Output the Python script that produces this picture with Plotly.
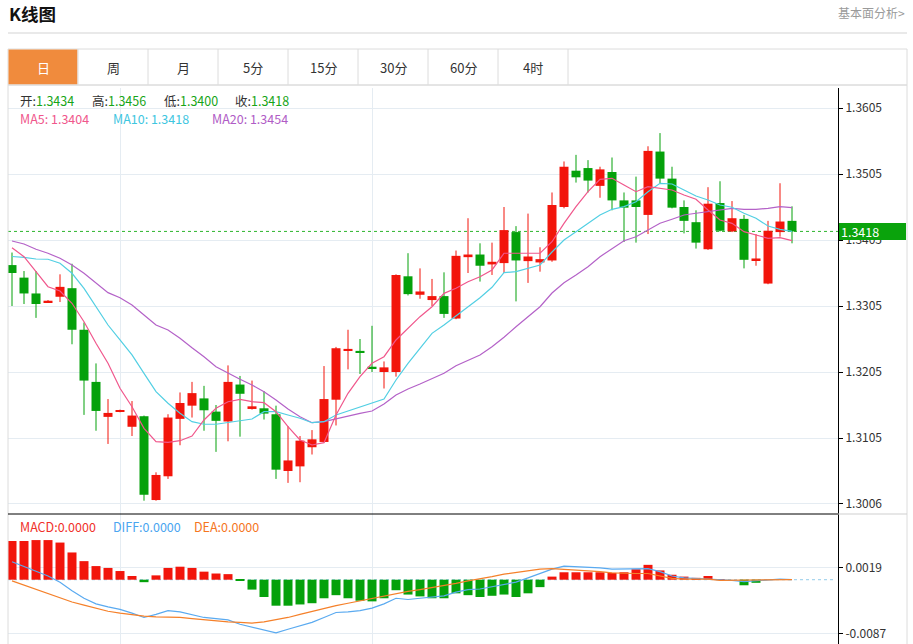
import plotly.graph_objects as go

W, H = 913, 644

# ---------------- data ----------------
days = list(range(66))

open_ = [1.3367, 1.3348, 1.3324, 1.3311, 1.3319, 1.3332, 1.3269, 1.3190, 1.3137, 1.3145,
         1.3122, 1.3138, 1.3011, 1.3047, 1.3134, 1.3154, 1.3165, 1.3145, 1.3130, 1.3186,
         1.3149, 1.3150, 1.3141, 1.3055, 1.3062, 1.3091, 1.3099, 1.3163, 1.3237, 1.3237,
         1.3213, 1.3205, 1.3205, 1.3350, 1.3322, 1.3314, 1.3320, 1.3286, 1.3379, 1.3383,
         1.3368, 1.3370, 1.3417, 1.3373, 1.3371, 1.3374, 1.3455, 1.3510, 1.3514, 1.3487,
         1.3508, 1.3465, 1.3465, 1.3443, 1.3539, 1.3498, 1.3455, 1.3432, 1.3391, 1.3461,
         1.3418, 1.3437, 1.3374, 1.3339, 1.3417, 1.3434]
high = [1.3386, 1.3358, 1.3358, 1.3314, 1.3353, 1.3369, 1.3280, 1.3218, 1.3164, 1.3148,
        1.3161, 1.3139, 1.3053, 1.3141, 1.3174, 1.3190, 1.3184, 1.3155, 1.3215, 1.3199,
        1.3192, 1.3176, 1.3154, 1.3123, 1.3108, 1.3117, 1.3214, 1.3243, 1.3269, 1.3255,
        1.3275, 1.3221, 1.3353, 1.3385, 1.3362, 1.3346, 1.3356, 1.3389, 1.3438, 1.3400,
        1.3401, 1.3455, 1.3426, 1.3445, 1.3394, 1.3477, 1.3524, 1.3534, 1.3526, 1.3516,
        1.3530, 1.3477, 1.3501, 1.3547, 1.3567, 1.3516, 1.3465, 1.3450, 1.3485, 1.3494,
        1.3464, 1.3443, 1.3414, 1.3434, 1.3491, 1.3456]
low = [1.3305, 1.3308, 1.3287, 1.3310, 1.3311, 1.3247, 1.3140, 1.3116, 1.3096, 1.3144,
       1.3108, 1.3010, 1.3010, 1.3043, 1.3094, 1.3136, 1.3116, 1.3084, 1.3100, 1.3107,
       1.3148, 1.3133, 1.3043, 1.3037, 1.3038, 1.3080, 1.3098, 1.3124, 1.3209, 1.3202,
       1.3205, 1.3180, 1.3198, 1.3321, 1.3316, 1.3305, 1.3287, 1.3285, 1.3355, 1.3342,
       1.3352, 1.3355, 1.3312, 1.3340, 1.3357, 1.3372, 1.3453, 1.3492, 1.3477, 1.3469,
       1.3450, 1.3402, 1.3401, 1.3414, 1.3491, 1.3453, 1.3415, 1.3392, 1.3390, 1.3418,
       1.3417, 1.3362, 1.3366, 1.3338, 1.3410, 1.3400]
close = [1.3355, 1.3324, 1.3308, 1.3313, 1.3334, 1.3269, 1.3192, 1.3146, 1.3143, 1.3147,
         1.3139, 1.3019, 1.3049, 1.3136, 1.3158, 1.3173, 1.3147, 1.3131, 1.3190, 1.3172,
         1.3153, 1.3142, 1.3057, 1.3071, 1.3101, 1.3103, 1.3164, 1.3241, 1.3240, 1.3234,
         1.3211, 1.3212, 1.3352, 1.3323, 1.3327, 1.3320, 1.3293, 1.3381, 1.3383, 1.3366,
         1.3372, 1.3420, 1.3374, 1.3380, 1.3376, 1.3458, 1.3516, 1.3500, 1.3495, 1.3512,
         1.3465, 1.3454, 1.3455, 1.3540, 1.3498, 1.3454, 1.3434, 1.3401, 1.3460, 1.3419,
         1.3438, 1.3375, 1.3377, 1.3419, 1.3433, 1.3418]

ma5 = [1.33933, 1.33797, 1.33570, 1.33342, 1.33277, 1.33091, 1.32812, 1.32485, 1.32182, 1.31803,
       1.31524, 1.31197, 1.30994, 1.30985, 1.31009, 1.31080, 1.31323, 1.31500, 1.31600, 1.31636,
       1.31600, 1.31585, 1.31449, 1.31221, 1.31020, 1.30944, 1.30979, 1.31399, 1.31727, 1.31979,
       1.32182, 1.32282, 1.32535, 1.32712, 1.32888, 1.33039, 1.33242, 1.33318, 1.33418, 1.33494,
       1.33596, 1.33849, 1.33849, 1.33838, 1.33849, 1.34024, 1.34303, 1.34555, 1.34782, 1.34970,
       1.34985, 1.34883, 1.34782, 1.34858, 1.34833, 1.34808, 1.34732, 1.34667, 1.34505, 1.34353,
       1.34303, 1.34176, 1.34126, 1.34076, 1.34085, 1.34040]
ma10 = [1.33800, 1.33788, 1.33762, 1.33758, 1.33697, 1.33546, 1.33318, 1.33039, 1.32762, 1.32535,
        1.32308, 1.32030, 1.31752, 1.31576, 1.31424, 1.31297, 1.31258, 1.31258, 1.31288, 1.31312,
        1.31338, 1.31449, 1.31449, 1.31399, 1.31349, 1.31282, 1.31297, 1.31399, 1.31459, 1.31524,
        1.31576, 1.31641, 1.31929, 1.32182, 1.32409, 1.32636, 1.32762, 1.32899, 1.33039, 1.33176,
        1.33333, 1.33555, 1.33570, 1.33621, 1.33671, 1.33868, 1.34050, 1.34176, 1.34303, 1.34429,
        1.34515, 1.34555, 1.34630, 1.34782, 1.34909, 1.34899, 1.34808, 1.34717, 1.34656, 1.34580,
        1.34546, 1.34455, 1.34379, 1.34262, 1.34212, 1.34180]
ma20 = [1.34035, 1.33989, 1.33909, 1.33849, 1.33773, 1.33671, 1.33546, 1.33394, 1.33252, 1.33176,
        1.33065, 1.32914, 1.32762, 1.32686, 1.32561, 1.32418, 1.32282, 1.32130, 1.32030, 1.31939,
        1.31853, 1.31752, 1.31626, 1.31489, 1.31373, 1.31282, 1.31297, 1.31343, 1.31383, 1.31424,
        1.31459, 1.31565, 1.31702, 1.31793, 1.31868, 1.31944, 1.32030, 1.32146, 1.32232, 1.32308,
        1.32433, 1.32576, 1.32736, 1.32888, 1.33039, 1.33247, 1.33403, 1.33519, 1.33646, 1.33797,
        1.33924, 1.34039, 1.34100, 1.34202, 1.34303, 1.34364, 1.34429, 1.34455, 1.34479, 1.34505,
        1.34530, 1.34515, 1.34515, 1.34530, 1.34555, 1.34540]

macd = [0.00625, 0.00625, 0.0064, 0.0064, 0.0060, 0.0044, 0.0030, 0.0022, 0.0019, 0.0014,
        0.0006, -0.0004, 0.0007, 0.0019, 0.0021, 0.0019, 0.0013, 0.0010, 0.0009, -0.0002,
        -0.0016, -0.0028, -0.0042, -0.0042, -0.0040, -0.0038, -0.0030, -0.0025, -0.0030, -0.0034,
        -0.0035, -0.0030, -0.0017, -0.0024, -0.0027, -0.0030, -0.0030, -0.0022, -0.0025, -0.0028,
        -0.0026, -0.0024, -0.0028, -0.0022, -0.0012, 0.0005, 0.0012, 0.0012, 0.0012, 0.0012,
        0.0011, 0.0012, 0.0017, 0.0024, 0.0015, 0.0008, 0.0005, 0.0003, 0.0006, 0.0001,
        0.0000, -0.0009, -0.0005, 0.0000, 0.0001, 0.0000]
diff = [0.0029, 0.0021, 0.0013, 0.0006, -0.0004, -0.0018, -0.0030, -0.0039, -0.0044, -0.0048,
        -0.0054, -0.0061, -0.0056, -0.0050, -0.0052, -0.0057, -0.0061, -0.0063, -0.0065, -0.0072,
        -0.0077, -0.0081, -0.0086, -0.0080, -0.0074, -0.0069, -0.0061, -0.0053, -0.0052, -0.0050,
        -0.0046, -0.0039, -0.0030, -0.0032, -0.0030, -0.0028, -0.0026, -0.0020, -0.0016, -0.0015,
        -0.0011, -0.0007, -0.0004, 0.0003, 0.0010, 0.0017, 0.0022, 0.0021, 0.0021, 0.0019,
        0.0017, 0.0017, 0.0017, 0.0018, 0.0013, 0.0006, 0.0003, 0.0002, 0.0002, 0.0000,
        -0.0001, -0.0003, -0.0002, -0.0001, 0.0001, 0.0000]
dea = [-0.0002, -0.0009, -0.0015, -0.0022, -0.0029, -0.0036, -0.0041, -0.0046, -0.0051, -0.0054,
       -0.0057, -0.0059, -0.0060, -0.0060, -0.0061, -0.0063, -0.0065, -0.0067, -0.0068, -0.0069,
       -0.0070, -0.0068, -0.0065, -0.0061, -0.0056, -0.0051, -0.0046, -0.0042, -0.0038, -0.0034,
       -0.0030, -0.0026, -0.0022, -0.0019, -0.0016, -0.0013, -0.0010, -0.0006, -0.0002, 0.0001,
       0.0005, 0.0009, 0.0012, 0.0015, 0.0017, 0.0018, 0.0017, 0.0016, 0.0015, 0.0013,
       0.0011, 0.0010, 0.0010, 0.0010, 0.0006, 0.0002, 0.0001, 0.0001, 0.0001, -0.0001,
       -0.0001, -0.0001, -0.0001, 0.0000, 0.0000, 0.0000]

price_ticks = [1.3605, 1.3505, 1.3405, 1.3305, 1.3205, 1.3105, 1.3006]
macd_ticks = [0.0019, -0.0087]
month_marks = [9, 30]
tabs = ["日", "周", "月", "5分", "15分", "30分", "60分", "4时"]

# ---------------- styles ----------------
RED = "#f2150b"
GREEN = "#05a10b"
C_MA5 = "#f0578c"
C_MA10 = "#52cfe3"
C_MA20 = "#b462c8"
C_DIFF = "#5aaaf0"
C_DEA = "#f5802a"
GRID = "#e5ecf2"
FONT = "Noto Sans CJK SC, Noto Sans, sans-serif"


def px(x):
    return x / W


def py(y):
    return 1 - y / H


MAIN_TOP, SPLIT, BOTTOM = 88, 514, 644
LEFT, RIGHT = 8, 838

fig = go.Figure()

# candle bodies
up = [c >= o for o, c in zip(open_, close)]
cols = [RED if u else GREEN for u in up]
fig.add_trace(go.Bar(
    x=days, base=[min(o, c) for o, c in zip(open_, close)],
    y=[abs(c - o) for o, c in zip(open_, close)],
    width=0.75, marker=dict(color=cols, line=dict(width=0)),
    xaxis="x", yaxis="y", hoverinfo="skip"))

# wicks
for flag, col in ((True, RED), (False, GREEN)):
    wx, wy = [], []
    for d, h, l, u in zip(days, high, low, up):
        if u == flag:
            wx += [d, d, None]
            wy += [l, h, None]
    fig.add_trace(go.Scatter(x=wx, y=wy, mode="lines", line=dict(color=col, width=1),
                             xaxis="x", yaxis="y", hoverinfo="skip"))

# moving averages
for series, col in ((ma20, C_MA20), (ma10, C_MA10), (ma5, C_MA5)):
    fig.add_trace(go.Scatter(x=days, y=series, mode="lines",
                             line=dict(color=col, width=1.2),
                             xaxis="x", yaxis="y", hoverinfo="skip"))

# MACD histogram
fig.add_trace(go.Bar(
    x=days, y=macd, width=0.75,
    marker=dict(color=[RED if v >= 0 else GREEN for v in macd], line=dict(width=0)),
    xaxis="x2", yaxis="y2", hoverinfo="skip"))
fig.add_trace(go.Scatter(x=days, y=diff, mode="lines", line=dict(color=C_DIFF, width=1.2),
                         xaxis="x2", yaxis="y2", hoverinfo="skip"))
fig.add_trace(go.Scatter(x=days, y=dea, mode="lines", line=dict(color=C_DEA, width=1.2),
                         xaxis="x2", yaxis="y2", hoverinfo="skip"))

# ---------------- axes ----------------
x_lo = (LEFT - 12) / 12
x_hi = (RIGHT - 12) / 12
pp = 6600.0  # pixels per price unit
main_hi = 1.3605 + (108 - MAIN_TOP) / pp
main_lo = 1.3605 - (SPLIT - 108) / pp
mp = 6190.0
m_zero = 579.7
macd_hi = (m_zero - SPLIT) / mp
macd_lo = (m_zero - BOTTOM) / mp

xcommon = dict(range=[x_lo, x_hi], domain=[px(LEFT), px(RIGHT)], tickvals=month_marks,
               showticklabels=False, showgrid=True, gridcolor=GRID, gridwidth=1,
               zeroline=False, ticks="", showline=False, fixedrange=True)
ycommon = dict(side="right", showgrid=True, gridcolor=GRID, gridwidth=1, zeroline=False,
               ticks="outside", ticklen=4, tickcolor="#000", tickwidth=1,
               showline=True, linecolor="#000", linewidth=1,
               tickfont=dict(family=FONT, size=12, color="#333"), fixedrange=True)

fig.update_layout(
    width=W, height=H, margin=dict(l=0, r=0, t=0, b=0),
    paper_bgcolor="white", plot_bgcolor="white", showlegend=False, barmode="overlay",
    xaxis=dict(anchor="y", **xcommon),
    xaxis2=dict(anchor="y2", **xcommon),
    yaxis=dict(anchor="x", domain=[py(SPLIT), py(MAIN_TOP)], range=[main_lo, main_hi],
               tickvals=price_ticks, ticktext=[f"{v:.4f}" for v in price_ticks], **ycommon),
    yaxis2=dict(anchor="x2", domain=[0, py(SPLIT)], range=[macd_lo, macd_hi],
                tickvals=macd_ticks, ticktext=[f"{v:.4f}" for v in macd_ticks], **ycommon),
)

# ---------------- decorations ----------------
shapes = []


def pline(x0, y0, x1, y1, color, width=1, dash=None, layer="above"):
    shapes.append(dict(type="line", xref="paper", yref="paper", x0=px(x0), y0=py(y0),
                       x1=px(x1), y1=py(y1), layer=layer,
                       line=dict(color=color, width=width, dash=dash)))


pline(8, 33, 907, 33, "#d3d3d3")
shapes.append(dict(type="rect", xref="paper", yref="paper", x0=px(8), x1=px(907),
                   y0=py(85), y1=py(49), line=dict(color="#dcdcdc", width=1),
                   fillcolor="white", layer="below"))
shapes.append(dict(type="rect", xref="paper", yref="paper", x0=px(8.5), x1=px(77.5),
                   y0=py(84.5), y1=py(49.5), line=dict(width=0),
                   fillcolor="#f08b3d", layer="above"))
for i in range(len(tabs)):
    xd = 78 + 70 * i
    pline(xd, 49, xd, 85, "#dcdcdc")
pline(8, 85, 8, 644, "#dcdcdc")
pline(907, 85, 907, 644, "#dcdcdc")
pline(8, 85, 907, 85, "#dcdcdc")
pline(8, SPLIT, RIGHT, SPLIT, "#000")
pline(RIGHT, SPLIT, 907, SPLIT, "#cfcfcf")

# last close dotted line (behind the candles)
shapes.append(dict(type="line", xref="x domain", yref="y", x0=0, x1=1,
                   y0=close[-1], y1=close[-1], layer="below",
                   line=dict(color="#2db52d", width=1, dash="dot")))
# MACD zero line
shapes.append(dict(type="line", xref="x2 domain", yref="y2", x0=0, x1=0.995, y0=0, y1=0,
                   layer="below", line=dict(color="#a9d6ee", width=1.2, dash="dot")))
fig.update_layout(shapes=shapes)

ann = []


def txt(x, y, s, size=12, color="#333", anchor="left", bold=False):
    ann.append(dict(xref="paper", yref="paper", x=px(x), y=py(y), text=f"<b>{s}</b>" if bold else s,
                    showarrow=False, xanchor=anchor, yanchor="middle",
                    font=dict(family=FONT, size=size, color=color)))


txt(7, 13, "K线图", size=17.5, color="#111", bold=True)
txt(907, 12, "基本面分析&gt;", size=12, color="#9a9a9a", anchor="right")
for i, t in enumerate(tabs):
    txt(43 + 70 * i, 67, t, size=13, color="white" if i == 0 else "#333", anchor="center")

VAL = "#17a517"
info = [("开", open_[-1], 18), ("高", high[-1], 90), ("低", low[-1], 162), ("收", close[-1], 233)]
for lab, v, xx in info:
    txt(xx, 101, f"{lab}:<span style='color:{VAL}'>{v:.4f}</span>", size=12.5, color="#333")
txt(18, 119, f"MA5: {ma5[-1]:.4f}", size=12.5, color=C_MA5)
txt(111, 119, f"MA10: {ma10[-1]:.4f}", size=12.5, color="#3ec6df")
txt(210, 119, f"MA20: {ma20[-1]:.4f}", size=12.5, color="#b05cc6")

txt(18, 526, "MACD:0.0000", size=12.5, color="#f0302a")
txt(111, 526, "DIFF:0.0000", size=12.5, color="#4aa5f0")
txt(192, 526, "DEA:0.0000", size=12.5, color="#f5761e")

# last price tag
ann.append(dict(xref="paper", yref="y", x=px(839), y=close[-1], text=f"{close[-1]:.4f}",
                showarrow=False, xanchor="left", yanchor="middle", align="left",
                width=63, height=13, borderpad=2, borderwidth=0, bgcolor="#0aa30c",
                font=dict(family=FONT, size=12.5, color="white")))
fig.update_layout(annotations=ann)

fig.write_html("out.html", config={"displayModeBar": False},
               post_script="document.body.style.margin='0';document.body.style.overflow='hidden';")
